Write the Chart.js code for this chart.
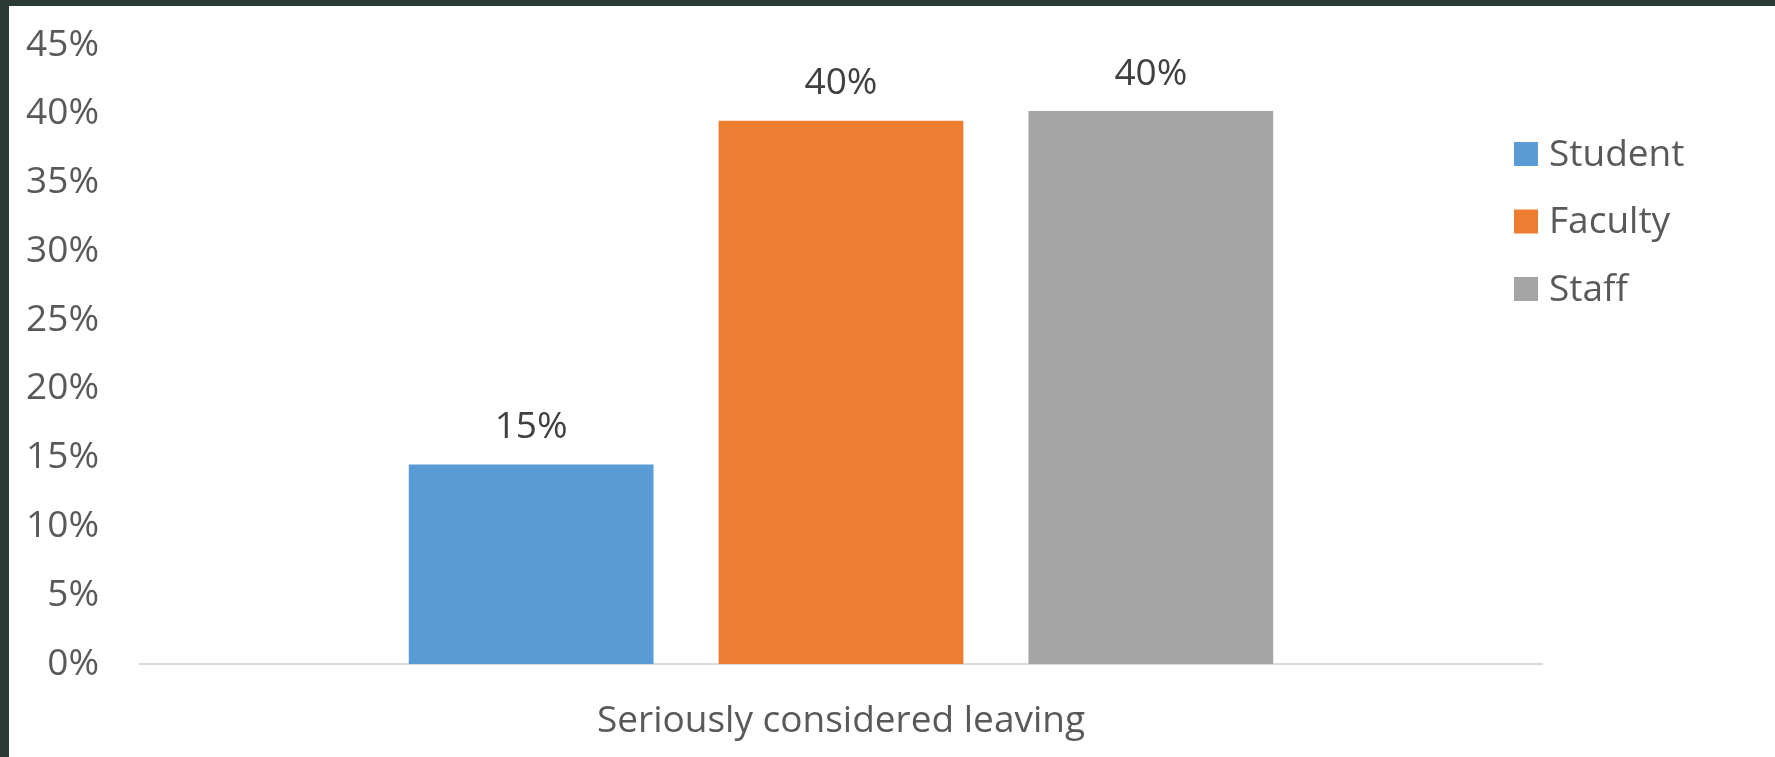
<!DOCTYPE html>
<html lang="en">
  <head>
    <meta charset="utf-8" />
    <title>Seriously considered leaving</title>
    <style>
      * {
        margin: 0;
        padding: 0;
      }
      body {
        width: 1775px;
        height: 757px;
        background: #2b3a34;
        overflow: hidden;
      }
      .chartBox {
        position: absolute;
        left: 9px;
        top: 6px;
        width: 1766px;
        height: 751px;
        background: #ffffff;
      }
    </style>
  </head>
  <body>
    <div class="chartBox">
      <canvas id="myChart"></canvas>
    </div>
    <script src="https://cdn.jsdelivr.net/npm/chart.js"></script>
    <script>
      // setup
      const categories = ["Seriously considered leaving"];
      const seriesNames = ["Student", "Faculty", "Staff"];
      const seriesValues = [[14.5], [39.5], [40.2]];
      const seriesColors = ["#5b9bd5", "#ed7d31", "#a5a5a5"];
      const yTicks = [0, 5, 10, 15, 20, 25, 30, 35, 40, 45];

      const FONT = "'Open Sans', sans-serif";

      const data = {
        labels: categories,
        datasets: seriesNames.map((name, i) => ({
          label: name,
          data: seriesValues[i],
          backgroundColor: seriesColors[i],
          borderWidth: 0,
          categoryPercentage: 0.663,
          barPercentage: 0.79
        }))
      };

      // value labels above each bar
      const barLabels = {
        id: "barLabels",
        afterDatasetsDraw(chart) {
          const { ctx } = chart;
          ctx.save();
          ctx.font = "37px " + FONT;
          ctx.fillStyle = "#404040";
          ctx.textAlign = "center";
          ctx.textBaseline = "middle";
          chart.data.datasets.forEach((ds, i) => {
            chart.getDatasetMeta(i).data.forEach((bar, j) => {
              ctx.fillText(Math.round(ds.data[j]) + "%", bar.x, bar.y - 37);
            });
          });
          ctx.restore();
        }
      };

      // legend drawn over the right end of the plot, like the original
      const sideLegend = {
        id: "sideLegend",
        afterDraw(chart) {
          const { ctx, chartArea } = chart;
          const x0 = chartArea.right - 28;
          const y0 = chartArea.top + 109;
          ctx.save();
          ctx.font = "37px " + FONT;
          ctx.textBaseline = "middle";
          chart.data.datasets.forEach((ds, i) => {
            const y = y0 + i * 67.5;
            ctx.fillStyle = ds.backgroundColor;
            ctx.fillRect(x0, y - 12, 24, 24);
            ctx.fillStyle = "#595959";
            ctx.fillText(ds.label, x0 + 35, y + 1);
          });
          ctx.restore();
        }
      };

      // config
      const config = {
        type: "bar",
        data,
        options: {
          responsive: true,
          maintainAspectRatio: false,
          animation: false,
          layout: {
            padding: { top: 39, right: 233, bottom: 0, left: 0 }
          },
          plugins: {
            legend: { display: false },
            tooltip: { enabled: false }
          },
          scales: {
            x: {
              grid: { display: false, drawTicks: false },
              border: { display: true, color: "#d9d9d9", width: 2 },
              ticks: {
                color: "#595959",
                padding: 35,
                font: { family: FONT, size: 37 }
              },
              afterFit(scale) {
                scale.height = 93;
              }
            },
            y: {
              min: 0,
              max: 45,
              afterBuildTicks(scale) {
                scale.ticks = yTicks.map((v) => ({ value: v }));
              },
              grid: { display: false, drawTicks: false },
              border: { display: false },
              ticks: {
                color: "#595959",
                padding: 41,
                font: { family: FONT, size: 37 },
                callback: (v) => v + "%"
              },
              afterFit(scale) {
                scale.width = 131;
                // tick padding is horizontal here; don't let it push the plot down
                scale.paddingTop = 0;
                scale.paddingBottom = 0;
              }
            }
          }
        },
        plugins: [barLabels, sideLegend]
      };

      // render init block
      const myChart = new Chart(document.getElementById("myChart"), config);
    </script>
  </body>
</html>
